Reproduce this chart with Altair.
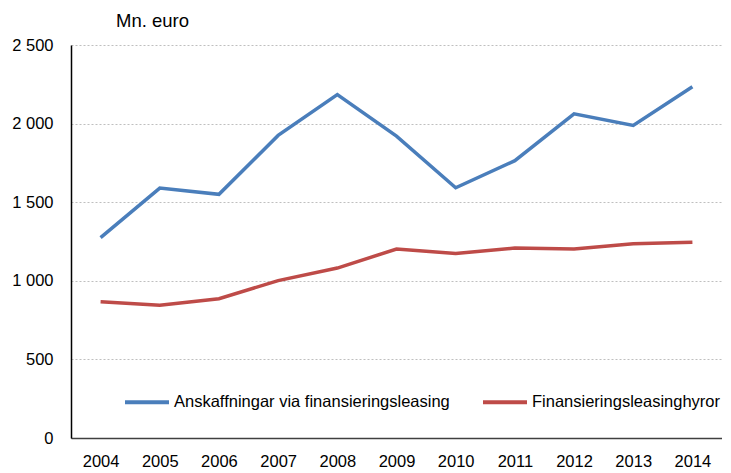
import altair as alt
import pandas as pd

years = ["2004", "2005", "2006", "2007", "2008", "2009", "2010", "2011", "2012", "2013", "2014"]
series_a_name = "Anskaffningar via finansieringsleasing"
series_b_name = "Finansieringsleasinghyror"
series_a = [1275, 1590, 1550, 1925, 2185, 1920, 1592, 1764, 2062, 1988, 2234]
series_b = [866, 844, 886, 1001, 1081, 1202, 1173, 1208, 1202, 1235, 1245]

rows = []
for y, a, b in zip(years, series_a, series_b):
    rows.append({"year": y, "series": series_a_name, "value": a})
    rows.append({"year": y, "series": series_b_name, "value": b})
df = pd.DataFrame(rows)

FONT = "Liberation Sans"

chart = alt.Chart(df).mark_line(strokeWidth=3.5).encode(
    x=alt.X("year:N", sort=years, title=None,
            scale=alt.Scale(type="point", padding=0.5),
            axis=alt.Axis(labelAngle=0, ticks=False, labelPadding=15, labelFontSize=16.5,
                          labelColor="#000000", labelFont=FONT,
                          domainColor="#404040", domainWidth=1.3, grid=False)),
    y=alt.Y("value:Q", title="Mn. euro",
            scale=alt.Scale(domain=[0, 2500], nice=False),
            axis=alt.Axis(values=[0, 500, 1000, 1500, 2000, 2500], ticks=False,
                          labelPadding=18, labelFontSize=16.5, labelColor="#000000", labelFont=FONT,
                          labelExpr="replace(format(datum.value, ',d'), ',', ' ')",
                          domainColor="#000000", domainWidth=1.5,
                          grid=True, gridColor="#BFBFBF", gridDash=[2, 2], gridWidth=1,
                          titleAngle=0, titleX=81, titleY=-25, titleAlign="center",
                          titleBaseline="middle", titleFontSize=18.5, titleFontWeight="normal",
                          titleFont=FONT, titleColor="#000000")),
    color=alt.Color("series:N", sort=[series_a_name, series_b_name],
                    scale=alt.Scale(domain=[series_a_name, series_b_name],
                                    range=["#4A7EBB", "#BE4B48"]),
                    legend=alt.Legend(title=None, orient="none", direction="horizontal",
                                      legendX=52, legendY=333,
                                      symbolType="stroke", symbolSize=1936, symbolStrokeWidth=4,
                                      labelFontSize=16.5, labelFont=FONT, labelColor="#000000",
                                      labelOffset=3, columnPadding=25, labelLimit=400)),
).properties(
    width=651, height=393,
    padding={"left": 63, "top": 37, "right": 0, "bottom": 33},
    autosize=alt.AutoSizeParams(type="none"),
).configure_view(stroke=None)

chart.save("out.html", embed_options={"renderer": "svg", "actions": False})
